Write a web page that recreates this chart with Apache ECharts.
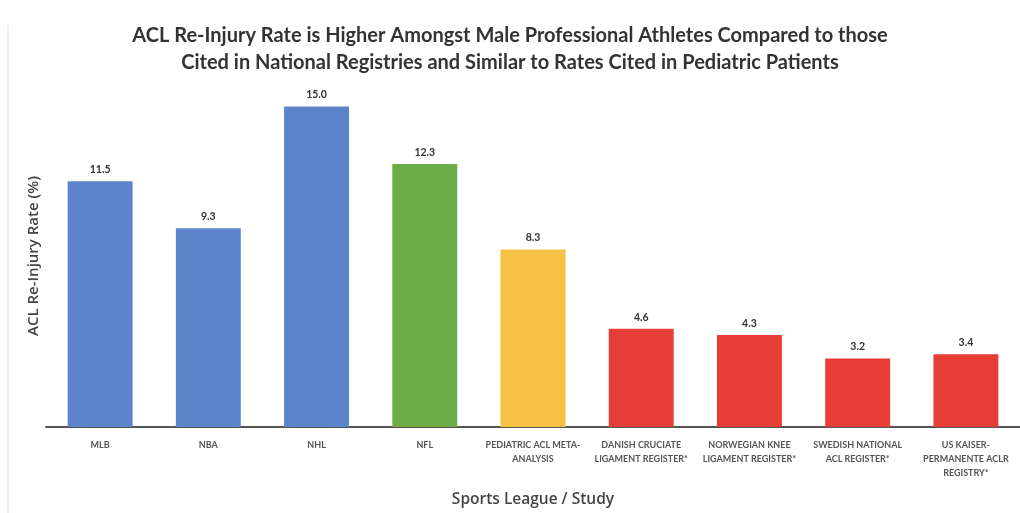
<!DOCTYPE html>
<html>
<head>
<meta charset="utf-8">
<script src="https://cdn.jsdelivr.net/npm/echarts@6/dist/echarts.min.js"></script>
<style>
  html, body { margin: 0; padding: 0; background: #fff; }
  #chart { width: 1020px; height: 513px; }
</style>
</head>
<body>
<div id="chart"></div>
<script>
// categories and ACL re-injury rates (%)
const categories = [
  'MLB',
  'NBA',
  'NHL',
  'NFL',
  'PEDIATRIC ACL META-\nANALYSIS',
  'DANISH CRUCIATE\nLIGAMENT REGISTER*',
  'NORWEGIAN KNEE\nLIGAMENT REGISTER*',
  'SWEDISH NATIONAL\nACL REGISTER*',
  'US KAISER-\nPERMANENTE ACLR\nREGISTRY*'
]
const rates = [11.5, 9.3, 15.0, 12.3, 8.3, 4.6, 4.3, 3.2, 3.4]
// one colour per category group
const barColors = ['#5b84cb', '#5b84cb', '#5b84cb', '#6dab46', '#f4c143', '#e63d36', '#e63d36', '#e63d36', '#e63d36']

let myChart = echarts.init(document.getElementById('chart'))
let option = {
  backgroundColor: '#fff',
  animation: false,
  title: {
    text: 'ACL Re-Injury Rate is Higher Amongst Male Professional Athletes Compared to those\nCited in National Registries and Similar to Rates Cited in Pediatric Patients',
    left: 'center',
    top: 17,
    textStyle: {
      fontFamily: 'Lato',
      fontWeight: 'bold',
      fontSize: 20,
      lineHeight: 27,
      color: '#333'
    }
  },
  grid: {
    top: 85,
    left: 46,
    right: 0,
    bottom: 85
  },
  xAxis: {
    type: 'category',
    data: categories,
    name: 'Sports League / Study',
    nameLocation: 'middle',
    nameGap: 65,
    nameTextStyle: {
      fontFamily: 'Open Sans',
      fontWeight: 600,
      fontSize: 15.5,
      color: '#444'
    },
    axisTick: { show: false },
    axisLine: { lineStyle: { color: '#555', width: 2 } },
    axisLabel: {
      interval: 0,
      margin: 11,
      fontFamily: 'Lato',
      fontWeight: 'bold',
      fontSize: 9,
      lineHeight: 14,
      color: '#555'
    }
  },
  yAxis: {
    type: 'value',
    min: 0,
    max: 16,
    name: 'ACL Re-Injury Rate (%)',
    nameLocation: 'middle',
    nameGap: 5,
    nameTextStyle: {
      fontFamily: 'Open Sans',
      fontWeight: 600,
      fontSize: 15,
      color: '#444'
    },
    axisLine: { show: false },
    axisTick: { show: false },
    axisLabel: { show: false },
    splitLine: { show: false }
  },
  series: [{
    type: 'bar',
    barCategoryGap: '40%',
    data: rates.map((v, i) => ({ value: v, itemStyle: { color: barColors[i] } })),
    label: {
      show: true,
      position: 'top',
      distance: 6,
      formatter: p => p.value.toFixed(1),
      fontFamily: 'Lato',
      fontWeight: 'bold',
      fontSize: 10.5,
      color: '#333'
    }
  }],
  graphic: [{
    type: 'line',
    shape: { x1: 8, y1: 25, x2: 8, y2: 513 },
    style: { stroke: '#ddd', lineWidth: 1 }
  }]
}
myChart.setOption(option)
</script>
</body>
</html>
